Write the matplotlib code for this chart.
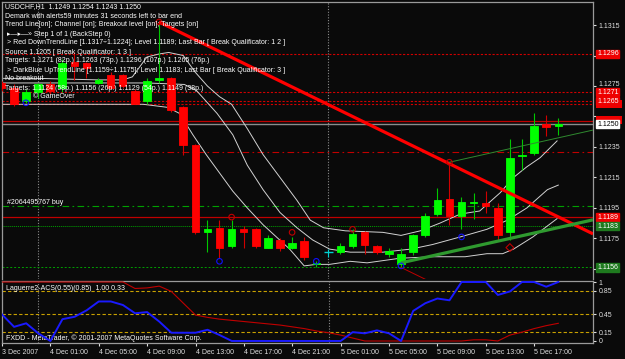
import matplotlib
matplotlib.use('agg')
import matplotlib.pyplot as plt
from matplotlib.patches import Rectangle
from matplotlib.transforms import ScaledTranslation
import numpy as np

plt.rcParams['font.family'] = ['Liberation Sans', 'DejaVu Sans']

W, H = 625, 359
BG = '#0a0a0a'

# hourly bars, index 0 = 4 Dec 00:00
hours = list(range(-3, 44))
opens = [1.1277, 1.1274, 1.1265, 1.1271, 1.1276, 1.1274, 1.1291, 1.1290, 1.1277, 1.1282,
         1.1282, 1.1272, 1.1265, 1.1279, 1.1280, 1.1261, 1.1236, 1.1179, 1.1182, 1.1170,
         1.1181, 1.1181, 1.1169, 1.1174, 1.1169, 1.1173, 1.1158, 1.1166, 1.1166, 1.1170,
         1.1179, 1.1170, 1.1165, 1.1158, 1.1166, 1.1177, 1.1191, 1.1201, 1.1190, 1.1198,
         1.1198, 1.1195, 1.1179, 1.1229, 1.1231, 1.1250, 1.1249]
highs = [1.1278, 1.1276, 1.1273, 1.1277, 1.1278, 1.1293, 1.1297, 1.1291, 1.1280, 1.1284,
         1.1283, 1.1273, 1.1280, 1.1316, 1.1281, 1.1262, 1.1237, 1.1187, 1.1187, 1.1187,
         1.1183, 1.1182, 1.1177, 1.1175, 1.1176, 1.1176, 1.1160, 1.1168, 1.1172, 1.1181,
         1.1180, 1.1171, 1.1169, 1.1169, 1.1178, 1.1192, 1.1208, 1.1225, 1.1202, 1.1205,
         1.1206, 1.1198, 1.1240, 1.1240, 1.1257, 1.1256, 1.1254]
lows = [1.1272, 1.1262, 1.1264, 1.1267, 1.1270, 1.1271, 1.1279, 1.1280, 1.1276, 1.1273,
        1.1274, 1.1263, 1.1263, 1.1277, 1.1258, 1.1230, 1.1178, 1.1166, 1.1162, 1.1169,
        1.1169, 1.1169, 1.1169, 1.1167, 1.1168, 1.1161, 1.1156, 1.1163, 1.1165, 1.1169,
        1.1165, 1.1165, 1.1163, 1.1156, 1.1164, 1.1176, 1.1190, 1.1184, 1.1181, 1.1188,
        1.1192, 1.1174, 1.1174, 1.1220, 1.1230, 1.1242, 1.1243]
closes = [1.1274, 1.1263, 1.1271, 1.1276, 1.1272, 1.1290, 1.1288, 1.1287, 1.1279, 1.1274,
          1.1275, 1.1263, 1.1278, 1.1280, 1.1259, 1.1236, 1.1179, 1.1181, 1.1169, 1.1181,
          1.1179, 1.1170, 1.1175, 1.1169, 1.1172, 1.1163, 1.1159, 1.1166, 1.1170, 1.1178,
          1.1171, 1.1166, 1.1167, 1.1165, 1.1177, 1.1190, 1.1200, 1.1190, 1.1199, 1.1199,
          1.1196, 1.1177, 1.1228, 1.1230, 1.1249, 1.1248, 1.1250]

# three smoothed white lines (hour, price)
line_a_h = [-3, 0, 5, 7, 7.8, 9, 10, 10.8, 12, 13, 14, 15, 16, 17.3, 18.6, 20, 21.4, 22.5, 23.6, 25.4, 28.5, 30, 31.6, 33.2, 34.9, 36.5, 38.2, 39.3, 40.4, 41.5, 42.9]
line_a_p = [1.1280, 1.1280, 1.1279, 1.1279, 1.1281, 1.1294, 1.1296, 1.1297, 1.1295, 1.1284, 1.1275, 1.1268, 1.1263, 1.1247, 1.1230, 1.1215, 1.1200, 1.1187, 1.1182, 1.1180, 1.1179, 1.1177, 1.1180, 1.1185, 1.1191, 1.1193, 1.1205, 1.1215, 1.1222, 1.1228, 1.1239]
line_b_h = [-3, 5, 9, 12.1, 13.1, 14.8, 16.1, 17.3, 18.6, 20, 21.4, 22.7, 24.1, 25.8, 28.5, 30.8, 32.6, 34.9, 37.1, 38.8, 40.4, 42.1, 43]
line_b_p = [1.1277, 1.1277, 1.1277, 1.1276, 1.1272, 1.1257, 1.1243, 1.1223, 1.1207, 1.1192, 1.1182, 1.1174, 1.1168, 1.1166, 1.1166, 1.1168, 1.1171, 1.1176, 1.1181, 1.1187, 1.1195, 1.1207, 1.1210]
line_c_h = [-3, 1, 5, 8.7, 10.7, 11.7, 12.8, 13.9, 16.1, 17.3, 18.6, 20.8, 22, 23, 24.1, 25.8, 27.2, 29.9, 32.6, 35.3, 37.1, 38.4, 39.3, 40.9, 42.9]
line_c_p = [1.1263, 1.1263, 1.1263, 1.1263, 1.1261, 1.1257, 1.1243, 1.1230, 1.1206, 1.1195, 1.1184, 1.1168, 1.1157, 1.1158, 1.1158, 1.1160, 1.1159, 1.1162, 1.1163, 1.1163, 1.1165, 1.1165, 1.1168, 1.1176, 1.1188]

# trend lines: (hour, price) anchor points
down_pts = ([10, 34], [1.1317, 1.1224])
up_pts = ([30, 39], [1.1159, 1.1175])
channel_high = (34, 1.1225)
channel_low = (30, 1.1156)

# demark markers
red_mark_h = [10, 16, 21, 26, 34]
red_mark_p = [1.1317, 1.1189, 1.1179, 1.1181, 1.1225]
blue_mark_h = [-1, 15, 23, 30, 35]
blue_mark_p = [1.1264, 1.1160, 1.1160, 1.1157, 1.1176]

# horizontal levels
red_dotted = [1.1296, 1.1271, 1.1265, 1.1263]
red_solid = [1.1252, 1.1189]
red_dashdot = 1.1232
green_dashdot = 1.1196
green_dotted = [1.1183, 1.1156]
bid = 1.1250

price_ticks = [1.1155, 1.1175, 1.1195, 1.1215, 1.1235, 1.1255, 1.1275, 1.1295, 1.1315]
hidden_ticks = [1.1155, 1.1255, 1.1295]
box_labels = [(1.1296, 'r'), (1.1271, 'r'), (1.1265, 'r'), (1.1250, 'w'),
              (1.1189, 'r'), (1.1183, 'g'), (1.1156, 'g')]
covered_boxes = [1.1263, 1.1253]

# Laguerre indicator
lag_blue = [0.45, 0.24, 0.30, 0.13, 0.0, 0.37, 0.41, 0.52, 0.67, 0.67, 0.61, 0.47, 0.49, 0.33, 0.14,
            0.14, 0.14, 0.19, 0.10, 0.0, 0.0, 0.0, 0.0, 0.0, 0.0, 0.0, 0.0, 0.0, 0.0, 0.15, 0.13,
            0.18, 0.13, 0.0, 0.51, 0.64, 0.72, 0.69, 1.0, 1.0, 1.0, 0.78, 0.84, 1.0, 1.0, 0.92, 1.0]
lag_red = [1.0, 1.0, 1.0, 1.0, 1.0, 1.0, 1.0, 1.0, 1.0, 1.0, 1.0, 0.89, 0.90, 0.93, 0.84, 0.64,
           0.44, 0.40, 0.37, 0.35, 0.33, 0.31, 0.29, 0.27, 0.24, 0.21, 0.17, 0.14, 0.10, 0.05, 0.0,
           0.0, 0.0, 0.0, 0.0, 0.0, 0.0, 0.0, 0.0, 0.02, 0.02, 0.0, 0.10, 0.15, 0.21, 0.26, 0.30]
lag_levels = [0.85, 0.45, 0.15]

time_ticks = [-3, 1, 5, 9, 13, 17, 21, 25, 29, 33, 37, 41]
time_labels = ['3 Dec 2007', '4 Dec 01:00', '4 Dec 05:00', '4 Dec 09:00', '4 Dec 13:00',
               '4 Dec 17:00', '4 Dec 21:00', '5 Dec 01:00', '5 Dec 05:00', '5 Dec 09:00',
               '5 Dec 13:00', '5 Dec 17:00']
separators = [0, 24]

info_lines = [
    'USDCHF,H1  1.1249 1.1254 1.1243 1.1250',
    'Demark with alerts59 minutes 31 seconds left to bar end',
    'Trend Line[on]; Channel [on]; Breakout level [on]; Targets [on]',
    ' \u25b8\u2014\u25b8\u2014\u00bb Step 1 of 1 (BackStep 0)',
    ' > Red DownTrendLine [1.1317\u00f71.1224]; Level 1.1189; Last Bar [ Break Qualificator: 1 2 ]',
    'Source 1.1205 [ Break Qualificator: 1 3 ]',
    'Targets: 1.1271 (82p.) 1.1263 (73p.) 1.1296 (107p.) 1.1265 (76p.)',
    ' > DarkBlue UpTrendLine [1.1159\u00f71.1175]; Level 1.1183; Last Bar [ Break Qualificator: 3 ]',
    'No breakout',
    'Targets: 1.1124 (58p.) 1.1156 (26p.) 1.1129 (54p.) 1.1149 (38p.)',
]


def rect(x0, y0, x1, y1):
    return [x0 / W, 1 - y1 / H, (x1 - x0) / W, (y1 - y0) / H]


def hx(px):
    # pixel column -> bar index
    return (px - 38) / 12.1


fig = plt.figure(figsize=(W / 100, H / 100), dpi=100, facecolor=BG)
ax = fig.add_axes(rect(2, 2, 593, 279))
ax2 = fig.add_axes(rect(2, 281, 593, 343))
xlim = (hx(2), hx(593))

for a in (ax, ax2):
    a.set_facecolor(BG)
    a.set_xlim(*xlim)
    for s in a.spines.values():
        s.set_color('#9a9a9a')
        s.set_linewidth(0.9)
    a.spines['bottom'].set_visible(a is ax2)
    for sx in separators:
        a.axvline(sx, color='#8a8a8a', lw=0.8, ls=(0, (1, 1.5)), zorder=1)

ylo, yhi = 1.11484, 1.13301
ax.set_ylim(ylo, yhi)

# horizontal levels
for p in red_dotted:
    ax.axhline(p, color='#d00000', lw=0.8, ls=(0, (2, 1.5)), zorder=1)
for p in red_solid:
    ax.axhline(p, color='#c00000', lw=0.9, zorder=1)
ax.axhline(red_dashdot, color='#c00000', lw=0.8, ls=(0, (6, 3, 1.5, 3)), zorder=1)
ax.axhline(green_dashdot, color='#00a000', lw=0.8, ls=(0, (6, 3, 1.5, 3)), zorder=1)
ax.axhline(green_dotted[0], color='#00a000', lw=0.7, ls=(0, (1, 1)), zorder=1)
ax.axhline(green_dotted[1], color='#00a000', lw=0.7, ls=(0, (2, 2)), zorder=1)
ax.axhline(bid, color='#8c8c8c', lw=1.0, zorder=1)

# white smoothed lines
for lh, lp in ((line_a_h, line_a_p), (line_b_h, line_b_p), (line_c_h, line_c_p)):
    ax.plot(lh, lp, color='#d2d2d2', lw=0.7, zorder=2)

# candles
hrs = np.array(hours)
o, hi, lo, c = map(np.array, (opens, highs, lows, closes))
up = c > o
dn = c < o
dj = c == o
ax.vlines(hrs[up], lo[up], hi[up], color='#00c800', lw=0.8, zorder=3)
ax.vlines(hrs[dn], lo[dn], hi[dn], color='#d00000', lw=0.8, zorder=3)
ax.vlines(hrs[dj], lo[dj], hi[dj], color='#00d0d0', lw=0.8, zorder=3)
ax.bar(hrs[up], (c - o)[up], bottom=o[up], width=0.62, color='#00ff00',
       edgecolor='#00ff00', lw=0.6, zorder=4)
ax.bar(hrs[dn], (o - c)[dn], bottom=c[dn], width=0.62, color='#ff0000',
       edgecolor='#ff0000', lw=0.6, zorder=4)
ax.hlines(o[dj], hrs[dj] - 0.35, hrs[dj] + 0.35, color='#00d0d0', lw=1.0, zorder=4)

# trend lines, extended to the right edge
xr = xlim[1]
dslope = (down_pts[1][1] - down_pts[1][0]) / (down_pts[0][1] - down_pts[0][0])
uslope = (up_pts[1][1] - up_pts[1][0]) / (up_pts[0][1] - up_pts[0][0])
ax.plot([down_pts[0][0], xr], [down_pts[1][0], down_pts[1][0] + dslope * (xr - down_pts[0][0])],
        color='#ff0000', lw=2.3, zorder=5, solid_capstyle='butt')
ax.plot([up_pts[0][0], xr], [up_pts[1][0], up_pts[1][0] + uslope * (xr - up_pts[0][0])],
        color='#2f9a2f', lw=2.3, zorder=5, solid_capstyle='butt')
ax.plot([channel_high[0], xr], [channel_high[1], channel_high[1] + uslope * (xr - channel_high[0])],
        color='#2f8a2f', lw=0.7, zorder=5)
ax.plot([channel_low[0], channel_low[0] + 5], [channel_low[1], channel_low[1] + dslope * 5],
        color='#c00000', lw=0.7, zorder=5)

ax.scatter(red_mark_h, red_mark_p, s=16, facecolor='none', edgecolor='#c00000', lw=0.8, zorder=6)
ax.scatter(blue_mark_h, blue_mark_p, s=16, facecolor='none', edgecolor='#1010ff', lw=0.8, zorder=6)
ax.scatter([39], [1.1169], s=16, marker='D', facecolor='none', edgecolor='#c00000', lw=0.8, zorder=6)

# right price scale
ax.yaxis.tick_right()
ax.set_yticks(price_ticks)
ax.set_yticklabels(['' if t in hidden_ticks else '%.4f' % t for t in price_ticks])
ax.tick_params(axis='y', colors='#e0e0e0', labelsize=5, length=2, pad=2)
ax.set_xticks([])
# the 1.1275 label sits just above the 1.1271 box; lift it a little
lbl = ax.get_yticklabels()[price_ticks.index(1.1275)]
lbl.set_transform(lbl.get_transform() + ScaledTranslation(0, 2.5 / 100, fig.dpi_scale_trans))

# label boxes partly hidden under other boxes in the original: plain red patches
box_w = 26 / 591
box_h = 8 * (yhi - ylo) / 277
for p in covered_boxes:
    ax.add_patch(Rectangle((1.005, p - box_h / 2), box_w, box_h, transform=ax.get_yaxis_transform(),
                           fc='#ee0000', ec='none', clip_on=False, zorder=9))
box_style = {'r': ('#ee0000', 'white'), 'g': ('#1e7a1e', 'white'), 'w': ('white', 'black')}
for p, k in box_labels:
    fc, tc = box_style[k]
    ax.text(1.007, p, '%.4f' % p, transform=ax.get_yaxis_transform(), fontsize=5, color=tc,
            va='center', ha='left', clip_on=False, zorder=10,
            bbox=dict(boxstyle='square,pad=0.1', fc=fc, ec=fc))

# indicator panel
ax2.set_ylim(-0.034, 1.017)
for lv in lag_levels:
    ax2.axhline(lv, color='#c8a000', lw=0.8, ls=(0, (3, 2)), zorder=1)
ax2.plot(hours, lag_red, color='#c00000', lw=0.8, zorder=3)
ax2.plot(hours, lag_blue, color='#1a1aff', lw=1.4, zorder=4)
ax2.yaxis.tick_right()
ax2.set_yticks([1.0, 0.85, 0.45, 0.15, 0.0])
ax2.set_yticklabels(['1', '0.85', '0.45', '0.15', '0'])
ax2.tick_params(axis='y', colors='#e0e0e0', labelsize=5, length=2, pad=2)
ax2.set_xticks(time_ticks)
ax2.set_xticklabels(time_labels, ha='left')
ax2.tick_params(axis='x', colors='#e0e0e0', labelsize=5, length=2, pad=2)
ax2.text(0.006, 0.88, 'Laguerre2-ACS(0.55)(0.85)  1.00 0.33', transform=ax2.transAxes,
         fontsize=5, color='white', va='center')
ax2.text(0.006, 0.08, 'FXDD - MetaTrader, \u00a9 2001-2007 MetaQuotes Software Corp.',
         transform=ax2.transAxes, fontsize=5, color='white', va='center')

# text overlay
for i, s in enumerate(info_lines):
    fig.text(5 / W, 1 - (7 + 9 * i) / H, s, fontsize=5, color='white', va='center', ha='left')
fig.text(33 / W, 1 - 97 / H, '\u00a9 GameOver', fontsize=5, color='white', va='center', ha='left')
fig.text(7 / W, 1 - 202 / H, '#2064495767 buy', fontsize=5, color='white', va='center', ha='left')

fig.savefig('out.png', dpi=100, facecolor=BG)
